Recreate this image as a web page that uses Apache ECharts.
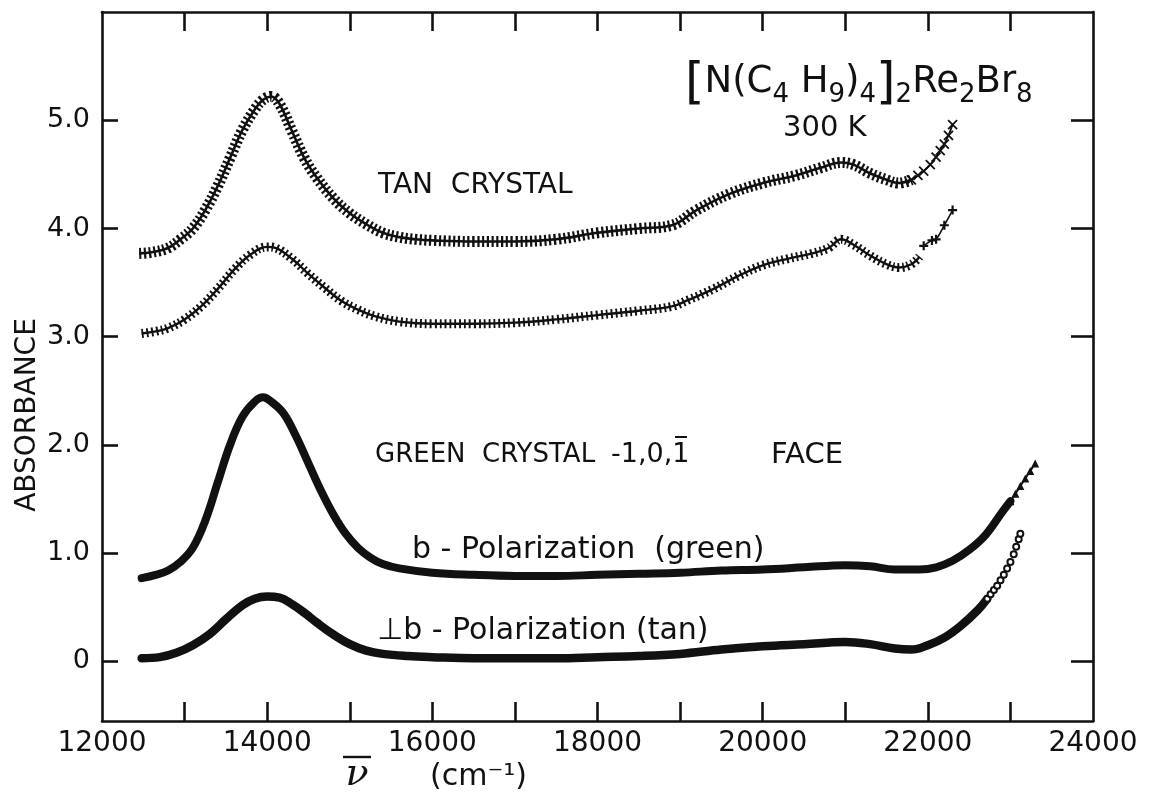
<!DOCTYPE html>
<html>
<head>
<meta charset="utf-8">
<script src="https://cdn.jsdelivr.net/npm/echarts@6/dist/echarts.min.js"></script>
<style>
  html, body { margin: 0; padding: 0; background: #ffffff; }
  #chart { width: 1155px; height: 796px; }
</style>
</head>
<body>
<div id="chart"></div>
<script>
// Axis ticks and labels
const xLabelValues = [12000, 14000, 16000, 18000, 20000, 22000, 24000];
const xTickValues = [13000, 14000, 15000, 16000, 17000, 18000, 19000, 20000, 21000, 22000, 23000];
const yTickValues = [0, 1, 2, 3, 4, 5];
const yTickLabels = ['0', '1.0', '2.0', '3.0', '4.0', '5.0'];

// Tan crystal, upper trace  [wavenumber cm-1, absorbance]
const tanUpper = [
  [12450, 3.77], [12600, 3.78], [12800, 3.82], [12950, 3.90], [13100, 4.00],
  [13250, 4.17], [13400, 4.39], [13550, 4.65], [13700, 4.91], [13850, 5.10],
  [13950, 5.19], [14050, 5.22], [14150, 5.15], [14300, 4.90], [14450, 4.65],
  [14600, 4.47], [14800, 4.28], [15000, 4.14], [15200, 4.04], [15400, 3.96],
  [15600, 3.92], [15800, 3.90], [16000, 3.89], [16500, 3.88], [17000, 3.88],
  [17500, 3.90], [18000, 3.96], [18500, 4.00], [18900, 4.03], [19200, 4.17],
  [19600, 4.32], [20000, 4.42], [20400, 4.49], [20700, 4.56], [20950, 4.61],
  [21100, 4.59], [21300, 4.51], [21500, 4.45], [21650, 4.42], [21800, 4.45]
];
const tanUpperTail = [
  [21800, 4.45], [21880, 4.49], [21950, 4.53], [22030, 4.59], [22100, 4.66],
  [22150, 4.72], [22200, 4.78], [22250, 4.86], [22300, 4.96]
];

// Tan crystal, lower trace
const tanLower = [
  [12480, 3.03], [12650, 3.05], [12800, 3.08], [13000, 3.16], [13200, 3.28],
  [13400, 3.44], [13600, 3.62], [13800, 3.76], [14000, 3.83], [14100, 3.82],
  [14300, 3.72], [14500, 3.58], [14700, 3.45], [14900, 3.33], [15100, 3.25],
  [15300, 3.19], [15600, 3.14], [16000, 3.12], [16500, 3.12], [17000, 3.13],
  [17500, 3.16], [18000, 3.20], [18500, 3.24], [18900, 3.28], [19100, 3.34],
  [19400, 3.44], [19700, 3.56], [20000, 3.66], [20300, 3.72], [20600, 3.77],
  [20800, 3.82], [20950, 3.90], [21100, 3.85], [21300, 3.75], [21500, 3.67],
  [21650, 3.64], [21800, 3.67], [21900, 3.74]
];
const tanLowerTail = [
  [21950, 3.84], [22050, 3.89], [22100, 3.90], [22200, 4.03], [22300, 4.17]
];

// Green crystal, b-polarization
const greenB = [
  [12480, 0.77], [12650, 0.80], [12800, 0.84], [12950, 0.92], [13100, 1.05],
  [13250, 1.30], [13400, 1.65], [13550, 2.00], [13700, 2.26], [13850, 2.40],
  [13950, 2.44], [14050, 2.40], [14200, 2.29], [14350, 2.08], [14500, 1.83],
  [14650, 1.58], [14800, 1.36], [14950, 1.18], [15100, 1.05], [15250, 0.96],
  [15400, 0.90], [15600, 0.86], [16000, 0.82], [16500, 0.80], [17000, 0.79],
  [17500, 0.79], [18000, 0.80], [18500, 0.81], [19000, 0.82], [19500, 0.84],
  [20000, 0.85], [20500, 0.87], [21000, 0.89], [21300, 0.88], [21600, 0.85],
  [21900, 0.85], [22100, 0.87], [22300, 0.93], [22500, 1.03], [22700, 1.17],
  [22900, 1.38], [23000, 1.48]
];
const greenBTail = [
  [23000, 1.48], [23060, 1.55], [23120, 1.62], [23180, 1.69], [23240, 1.76], [23300, 1.83]
];

// Tan, perpendicular-to-b polarization
const tanPerp = [
  [12480, 0.03], [12700, 0.04], [12900, 0.08], [13100, 0.15], [13300, 0.25],
  [13500, 0.39], [13700, 0.52], [13850, 0.58], [14000, 0.60], [14150, 0.59],
  [14300, 0.53], [14450, 0.45], [14600, 0.36], [14800, 0.25], [15000, 0.16],
  [15200, 0.10], [15400, 0.07], [15700, 0.05], [16000, 0.04], [16500, 0.03],
  [17000, 0.03], [17500, 0.03], [18000, 0.04], [18500, 0.05], [19000, 0.07],
  [19500, 0.11], [20000, 0.14], [20500, 0.16], [21000, 0.18], [21300, 0.16],
  [21600, 0.12], [21800, 0.11], [22000, 0.15], [22200, 0.22], [22400, 0.33],
  [22600, 0.47], [22720, 0.58]
];
const tanPerpTail = [
  [22720, 0.58], [22760, 0.62], [22800, 0.66], [22840, 0.70], [22880, 0.75],
  [22920, 0.80], [22960, 0.86], [23000, 0.92], [23040, 0.99], [23070, 1.06],
  [23100, 1.13], [23120, 1.18]
];

const INK = '#111111';
const FONT = 'DejaVu Sans';

const chart = echarts.init(document.getElementById('chart'), null, { renderer: 'canvas' });

const frameLine = { show: true, onZero: false, lineStyle: { color: INK, width: 2.6 } };

// A spine plus a wide dashed stroke gives the cross-hatched look of densely plotted points
function hatched(data, spine, tick, dash) {
  return [
    { type: 'line', data, smooth: 0.4, showSymbol: false,
      lineStyle: { color: INK, width: spine }, z: 3 },
    { type: 'line', data, smooth: 0.4, showSymbol: false,
      lineStyle: { color: INK, width: tick, type: dash, cap: 'butt' }, z: 3 }
  ];
}

const option = {
  animation: false,
  backgroundColor: '#ffffff',
  grid: { left: 102, right: 62, top: 12, bottom: 75, containLabel: false },
  xAxis: [
    {
      type: 'value', position: 'bottom', min: 12000, max: 24000,
      axisLine: frameLine,
      axisTick: { show: true, inside: true, length: 19, customValues: xTickValues,
                  lineStyle: { color: INK, width: 2.6 } },
      axisLabel: { show: true, customValues: xLabelValues, margin: 9,
                   color: INK, fontFamily: FONT, fontSize: 28,
                   formatter: (v) => String(Math.round(v)) },
      splitLine: { show: false }
    },
    {
      type: 'value', position: 'top', min: 12000, max: 24000,
      axisLine: frameLine,
      axisTick: { show: true, inside: true, length: 19, customValues: xTickValues,
                  lineStyle: { color: INK, width: 2.6 } },
      axisLabel: { show: false },
      splitLine: { show: false }
    }
  ],
  yAxis: [
    {
      type: 'value', position: 'left', min: -0.55, max: 6,
      axisLine: frameLine,
      axisTick: { show: true, inside: true, length: 16, customValues: yTickValues,
                  lineStyle: { color: INK, width: 2.6 } },
      axisLabel: { show: true, customValues: yTickValues, margin: 12,
                   color: INK, fontFamily: FONT, fontSize: 27,
                   formatter: (v) => yTickLabels[yTickValues.indexOf(Math.round(v))] },
      splitLine: { show: false }
    },
    {
      type: 'value', position: 'right', min: -0.55, max: 6,
      axisLine: frameLine,
      axisTick: { show: true, inside: true, length: 22, customValues: yTickValues,
                  lineStyle: { color: INK, width: 2.6 } },
      axisLabel: { show: false },
      splitLine: { show: false }
    }
  ],
  series: [
    ...hatched(tanUpper, 2.6, 11, [2.2, 2.6]),
    { type: 'line', data: tanUpperTail, smooth: 0.3, symbol: 'path://M0,0L10,10M10,0L0,10',
      symbolSize: 9, showSymbol: true,
      itemStyle: { color: 'none', borderColor: INK, borderWidth: 1.8 },
      lineStyle: { color: INK, width: 1.8 }, z: 3 },
    ...hatched(tanLower, 2.4, 9, [1.9, 3.0]),
    { type: 'line', data: tanLowerTail, smooth: 0.3, symbol: 'path://M5,0L5,10M0,5L10,5',
      symbolSize: 9, showSymbol: true,
      itemStyle: { color: 'none', borderColor: INK, borderWidth: 2.2 },
      lineStyle: { color: INK, width: 1.6 }, z: 3 },
    { type: 'line', data: greenB, smooth: 0.4, showSymbol: false,
      lineStyle: { color: INK, width: 8, cap: 'round', join: 'round' }, z: 3 },
    { type: 'line', data: greenBTail, smooth: 0.3, symbol: 'triangle', symbolSize: 8,
      showSymbol: true, itemStyle: { color: INK },
      lineStyle: { color: INK, width: 2 }, z: 3 },
    { type: 'line', data: tanPerp, smooth: 0.4, showSymbol: false,
      lineStyle: { color: INK, width: 8.5, cap: 'round', join: 'round' }, z: 3 },
    { type: 'line', data: tanPerpTail, smooth: 0.3, symbol: 'emptyCircle', symbolSize: 6,
      showSymbol: true, itemStyle: { color: INK, borderColor: INK, borderWidth: 1.5 },
      lineStyle: { color: INK, width: 0, opacity: 0 }, z: 3 }
  ],
  graphic: [
    { type: 'text', x: 28, y: 415, rotation: Math.PI / 2,
      style: { text: 'ABSORBANCE', fontFamily: FONT, fontSize: 28, fill: INK,
               textAlign: 'center', textVerticalAlign: 'middle' } },
    // wavenumber symbol with its bar
    { type: 'text', x: 357, y: 775,
      style: { text: '\u03BD', fontFamily: 'DejaVu Serif', fontStyle: 'italic',
               fontSize: 38, fill: INK, textAlign: 'center', textVerticalAlign: 'middle' } },
    { type: 'line', shape: { x1: 343, y1: 757, x2: 371, y2: 757 },
      style: { stroke: INK, lineWidth: 2.4 } },
    { type: 'text', x: 430, y: 777,
      style: { text: '(cm\u207B\u00B9)', fontFamily: FONT, fontSize: 30, fill: INK,
               textAlign: 'left', textVerticalAlign: 'middle' } },
    { type: 'text', x: 685, y: 82,
      style: {
        text: '{b|[}N(C{s|4} H{s|9}){s|4}{b|]}{s|2}Re{s|2}Br{s|8}',
        fontFamily: FONT, fontSize: 37, fill: INK,
        textAlign: 'left', textVerticalAlign: 'middle',
        rich: {
          b: { fontFamily: FONT, fontSize: 50, fill: INK, padding: [6, 0, 0, 0] },
          s: { fontFamily: FONT, fontSize: 26, fill: INK, padding: [26, 0, 0, 0] }
        }
      } },
    { type: 'text', x: 783, y: 128,
      style: { text: '300 K', fontFamily: FONT, fontSize: 29, fill: INK,
               textAlign: 'left', textVerticalAlign: 'middle' } },
    { type: 'text', x: 378, y: 186,
      style: { text: 'TAN  CRYSTAL', fontFamily: FONT, fontSize: 28, fill: INK,
               textAlign: 'left', textVerticalAlign: 'middle' } },
    { type: 'text', x: 375, y: 455,
      style: { text: 'GREEN  CRYSTAL', fontFamily: FONT, fontSize: 26, fill: INK,
               textAlign: 'left', textVerticalAlign: 'middle' } },
    { type: 'text', x: 611, y: 455,
      style: { text: '-1,0,1', fontFamily: FONT, fontSize: 27, fill: INK,
               textAlign: 'left', textVerticalAlign: 'middle' } },
    { type: 'line', shape: { x1: 675, y1: 437, x2: 687, y2: 437 },
      style: { stroke: INK, lineWidth: 2 } },
    { type: 'text', x: 843, y: 455,
      style: { text: 'FACE', fontFamily: FONT, fontSize: 29, fill: INK,
               textAlign: 'right', textVerticalAlign: 'middle' } },
    { type: 'text', x: 412, y: 550,
      style: { text: 'b - Polarization  (green)', fontFamily: FONT, fontSize: 30, fill: INK,
               textAlign: 'left', textVerticalAlign: 'middle' } },
    { type: 'text', x: 377, y: 631,
      style: { text: '\u22A5b - Polarization (tan)', fontFamily: FONT, fontSize: 30, fill: INK,
               textAlign: 'left', textVerticalAlign: 'middle' } }
  ]
};

chart.setOption(option);
</script>
</body>
</html>
